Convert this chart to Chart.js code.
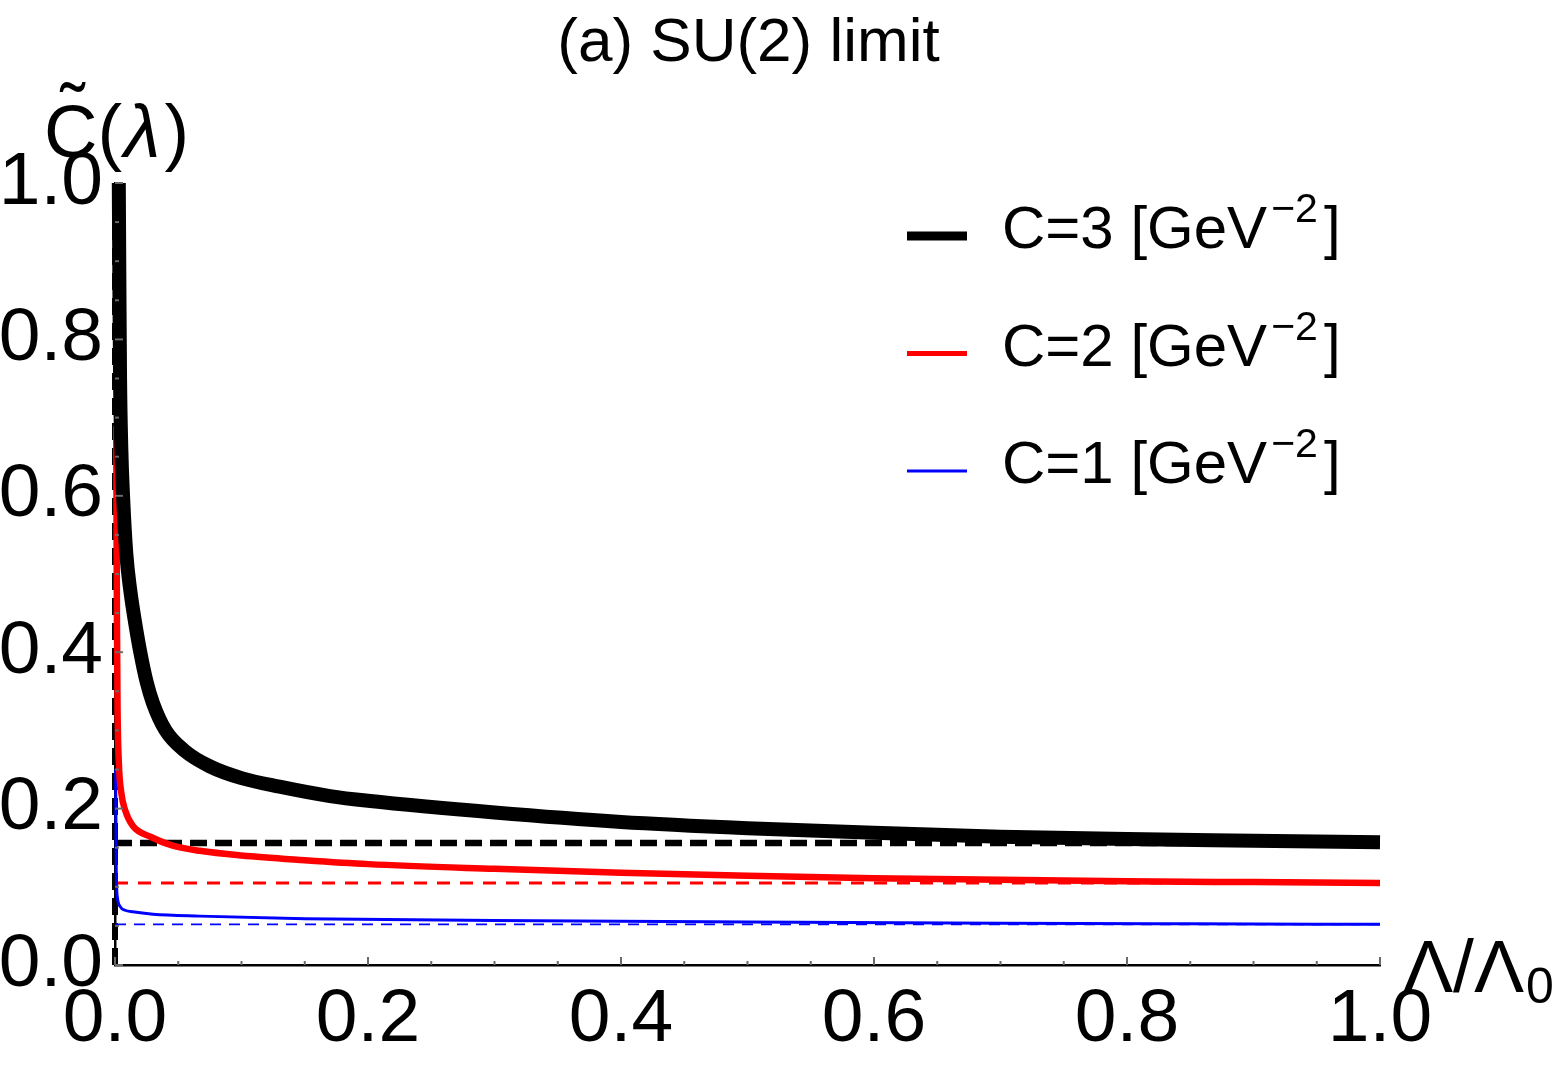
<!DOCTYPE html>
<html><head><meta charset="utf-8">
<script src="https://cdn.jsdelivr.net/npm/chart.js@4/dist/chart.umd.min.js"></script>
<style>html,body{margin:0;padding:0;background:#fff;overflow:hidden}#wrap{width:1563px;height:1065px;position:relative}</style>
</head><body><div id="wrap"><canvas id="c" width="1563" height="1065"></canvas></div>
<script>
// ---- data ----
const C3_x = [0.003,0.0035,0.004,0.005,0.0065,0.009,0.012,0.016,0.02,0.025,0.03,0.04,0.055,0.075,0.1,0.13,0.17,0.2,0.3,0.4,0.5,0.6,0.7,0.8,0.9,1.0];
const C3_y = [1.0,0.86,0.75,0.66,0.595,0.525,0.48,0.437,0.40,0.362,0.335,0.30,0.274,0.254,0.239,0.228,0.216,0.210,0.195,0.183,0.175,0.169,0.164,0.161,0.159,0.157];
const C2_x = [0.001,0.0015,0.002,0.003,0.005,0.008,0.014,0.028,0.045,0.067,0.1,0.15,0.2,0.3,0.4,0.5,0.6,0.7,0.8,0.9,1.0];
const C2_y = [0.69,0.45,0.33,0.26,0.22,0.198,0.178,0.164,0.153,0.146,0.140,0.134,0.129,0.123,0.118,0.114,0.111,0.109,0.107,0.106,0.105];
const C1_x = [0.0005,0.001,0.002,0.004,0.008,0.014,0.03,0.067,0.15,0.3,0.5,0.7,0.85,1.0];
const C1_y = [0.25,0.12,0.085,0.075,0.070,0.068,0.065,0.0625,0.059,0.057,0.055,0.0535,0.0527,0.052];
const asymC3 = 0.156, asymC2 = 0.105, asymC1 = 0.052;
const xTickLabels = [0, 0.2, 0.4, 0.6, 0.8, 1.0];
const yTickLabels = [0, 0.2, 0.4, 0.6, 0.8, 1.0];
const seriesNames = ['C=3 [GeV', 'C=2 [GeV', 'C=1 [GeV'];
const unitSup = '\u22122';
const titleText = '(a) SU(2) limit';
const yTitle = ['C', '(', '\u03BB', ')'];
const xTitle = '\u039B/\u039B';
const xTitleSub = '0';

const FONT = '"Liberation Sans", Arial, Helvetica, sans-serif';
const pts = (xs, ys) => xs.map((v, i) => ({x: v, y: ys[i]}));

const datasets = [
  {data: pts(C3_x, C3_y), borderColor: '#000', borderWidth: 14, cubicInterpolationMode: 'monotone'},
  {data: pts(C2_x, C2_y), borderColor: '#ff0000', borderWidth: 6.5, cubicInterpolationMode: 'monotone'},
  {data: pts(C1_x, C1_y), borderColor: '#0000ff', borderWidth: 3, cubicInterpolationMode: 'monotone'},
  {data: [{x:0,y:asymC3},{x:1,y:asymC3}], borderColor: '#000', borderWidth: 6.5, borderDash: [17, 8]},
  {data: [{x:0,y:asymC2},{x:1,y:asymC2}], borderColor: '#ff0000', borderWidth: 3, borderDash: [13, 10]},
  {data: [{x:0,y:asymC1},{x:1,y:asymC1}], borderColor: '#0000ff', borderWidth: 1.8, borderDash: [11, 8]},
  {data: [{x:0,y:0},{x:0,y:1}], borderColor: '#000', borderWidth: 6, borderDash: [17, 8]}
].map(d => Object.assign({pointRadius: 0, fill: false, clip: false, borderCapStyle: 'butt'}, d));

const deco = {
  id: 'deco',
  afterDatasetsDraw(chart) {
    const {ctx, scales: {x, y}, chartArea: a} = chart;
    ctx.save();
    ctx.strokeStyle = '#6a6a6a'; ctx.lineWidth = 2;
    for (let i = 0; i <= 20; i++) {
      const v = i * 0.05, L = (i % 4 === 0) ? 8 : 4;
      const px = x.getPixelForValue(v);
      ctx.beginPath(); ctx.moveTo(px, a.bottom); ctx.lineTo(px, a.bottom - L); ctx.stroke();
      const py = y.getPixelForValue(v);
      ctx.beginPath(); ctx.moveTo(a.left, py); ctx.lineTo(a.left + L, py); ctx.stroke();
    }
    ctx.restore();
  },
  afterDraw(chart) {
    const {ctx, chartArea: a} = chart;
    ctx.save();
    ctx.fillStyle = '#000';
    ctx.textBaseline = 'alphabetic';
    // title
    ctx.textAlign = 'center';
    ctx.font = '62px ' + FONT;
    ctx.fillText(titleText, (a.left + a.right) / 2 + 1, 61);
    // y title C~(lambda)
    ctx.textAlign = 'left';
    ctx.font = '74px ' + FONT;
    let xx = 44;
    ctx.fillText(yTitle[0], xx, 157);
    const cw = ctx.measureText(yTitle[0]).width;
    ctx.textAlign = 'center';
    ctx.fillText('\u02DC', xx + cw / 2 + 2, 136);
    ctx.textAlign = 'left';
    xx += cw;
    ctx.fillText(yTitle[1], xx, 157); xx += ctx.measureText(yTitle[1]).width + 2;
    ctx.font = 'italic 74px ' + FONT;
    ctx.fillText(yTitle[2], xx, 157); xx += ctx.measureText(yTitle[2]).width + 4;
    ctx.font = '74px ' + FONT;
    ctx.fillText(yTitle[3], xx, 157);
    // x title
    ctx.font = '75px ' + FONT;
    ctx.fillText(xTitle, 1403, 992);
    const xw = ctx.measureText(xTitle).width;
    ctx.font = '50px ' + FONT;
    ctx.fillText(xTitleSub, 1403 + xw + 2, 1003);
    // legend
    const lineW = [9, 5, 3], cols = ['#000', '#ff0000', '#0000ff'];
    const base = [248, 365.5, 483];
    for (let i = 0; i < 3; i++) {
      ctx.strokeStyle = cols[i]; ctx.lineWidth = lineW[i];
      ctx.beginPath(); ctx.moveTo(907, base[i] - 12); ctx.lineTo(967, base[i] - 12); ctx.stroke();
      ctx.font = '60px ' + FONT;
      ctx.fillText(seriesNames[i], 1002, base[i]);
      let p = 1002 + ctx.measureText(seriesNames[i]).width + 4;
      ctx.font = '41px ' + FONT;
      ctx.fillText(unitSup, p, base[i] - 26);
      p += ctx.measureText(unitSup).width + 6;
      ctx.font = '60px ' + FONT;
      ctx.fillText(']', p, base[i]);
    }
    ctx.restore();
  }
};

new Chart(document.getElementById('c'), {
  type: 'line',
  data: {datasets},
  options: {
    responsive: false, animation: false, devicePixelRatio: 1,
    layout: {padding: {top: 183, right: 183, left: 0, bottom: 0}},
    plugins: {legend: {display: false}, tooltip: {enabled: false}, title: {display: false}},
    scales: {
      x: {
        type: 'linear', min: 0, max: 1,
        grid: {display: false, drawTicks: false},
        border: {display: true, color: '#000', width: 2.5},
        afterBuildTicks: s => { s.ticks = xTickLabels.map(v => ({value: v})); },
        ticks: {callback: v => v.toFixed(1), color: '#000', font: {family: FONT, size: 75}, padding: 10, maxRotation: 0, autoSkip: false},
        afterFit: s => { s.height = 100; }
      },
      y: {
        type: 'linear', min: 0, max: 1,
        grid: {display: false, drawTicks: false},
        border: {display: true, color: '#000', width: 2.5},
        afterBuildTicks: s => { s.ticks = yTickLabels.map(v => ({value: v})); },
        ticks: {callback: v => v.toFixed(1), color: '#000', font: {family: FONT, size: 75}, padding: 12, autoSkip: false},
        afterFit: s => { s.width = 115; }
      }
    }
  },
  plugins: [deco]
});
</script></body></html>
